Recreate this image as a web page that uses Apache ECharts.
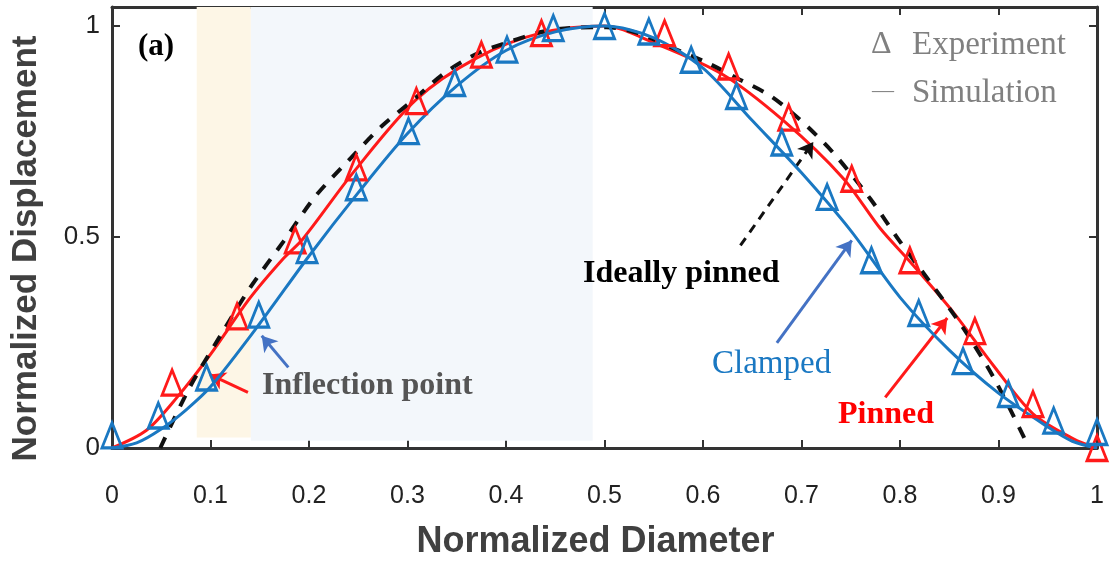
<!DOCTYPE html>
<html>
<head>
    <meta charset="utf-8">
    <title>Normalized displacement profile</title>
    <script src="https://cdn.jsdelivr.net/npm/echarts@6/dist/echarts.min.js"></script>
</head>
<style>
    body { margin: 0; background: #fff; }
    #main { width: 1115px; height: 565px; }
</style>
<body>
<div id="main"></div>
<script type="text/javascript">
    // [normalized diameter, normalized displacement]
    var pinnedSim = [[0,0],[0.035,0.042],[0.066,0.12],[0.1,0.222],[0.14,0.355],[0.174,0.449],[0.194,0.496],
        [0.245,0.653],[0.309,0.826],[0.37,0.924],[0.435,0.983],[0.5,1.0],[0.55,0.96],[0.62,0.885],
        [0.682,0.775],[0.742,0.64],[0.78,0.52],[0.81,0.442],[0.854,0.322],[0.895,0.195],[0.935,0.081],
        [0.976,0.022],[1,0]];
    var clampedSim = [[0,0],[0.025,0.012],[0.05,0.045],[0.075,0.09],[0.1,0.145],[0.15,0.295],[0.2,0.455],
        [0.25,0.605],[0.3,0.745],[0.35,0.858],[0.4,0.942],[0.45,0.986],[0.5,1.0],[0.55,0.972],[0.6,0.9],
        [0.65,0.776],[0.7,0.652],[0.75,0.515],[0.8,0.357],[0.85,0.232],[0.9,0.13],[0.95,0.05],
        [0.975,0.016],[1,0]];
    var idealPinned = [[0.049,0],[0.079,0.144],[0.11,0.266],[0.14,0.379],[0.174,0.489],[0.206,0.595],
        [0.24,0.681],[0.274,0.763],[0.306,0.825],[0.338,0.889],[0.372,0.936],[0.404,0.963],[0.438,0.987],
        [0.47,0.996],[0.502,0.997],[0.534,0.983],[0.566,0.951],[0.605,0.912],[0.634,0.877],[0.668,0.835],
        [0.698,0.779],[0.732,0.7],[0.77,0.59],[0.8,0.489],[0.83,0.395],[0.864,0.285],[0.895,0.167],
        [0.927,0.02],[0.93,0]];
    var pinnedExp = [[0.061,0.155],[0.127,0.312],[0.186,0.492],[0.248,0.665],[0.309,0.822],[0.375,0.932],
        [0.436,0.983],[0.561,0.983],[0.626,0.904],[0.687,0.783],[0.751,0.638],[0.81,0.445],[0.876,0.277],
        [0.935,0.104],[1.0,0.0]];
    var clampedExp = [[0,0.03],[0.047,0.077],[0.096,0.167],[0.149,0.316],[0.198,0.469],[0.248,0.618],
        [0.301,0.751],[0.348,0.865],[0.401,0.944],[0.448,0.995],[0.5,1.0],[0.545,0.987],[0.588,0.92],
        [0.634,0.834],[0.68,0.724],[0.726,0.595],[0.771,0.445],[0.819,0.32],[0.864,0.206],[0.91,0.128],
        [0.956,0.065],[1.0,0.038]];
    // shaded bands (x ranges)
    var yellowBand = [0.086, 0.141];
    var blueBand = [0.141, 0.488];
    // arrow annotations [tail, tip] in data coords
    var arrowInflRed = [[0.138,0.132],[0.0995,0.174]];
    var arrowInflBlue = [[0.179,0.191],[0.152,0.266]];
    var arrowIdeal = [[0.638,0.48],[0.712,0.725]];
    var arrowClamped = [[0.675,0.249],[0.751,0.492]];
    var arrowPinned = [[0.785,0.12],[0.848,0.308]];

    var RED = '#ff1a1a';
    var BLUE = '#1a78c2';
    var ARROWBLUE = '#4472c4';
    var AXIS = '#333';
    var sans = '"Liberation Sans", Arial, sans-serif';
    var serif = '"Liberation Serif", "Times New Roman", serif';

    function arrow(pts, color, type) {
        return [
            {coord: pts[0], lineStyle: {color: color, width: 3, type: type || 'solid'}},
            {coord: pts[1]}
        ];
    }

    var myChart = echarts.init(document.getElementById('main'));

    var axisCommon = {
        type: 'value',
        axisLine: {onZero: false, lineStyle: {color: AXIS, width: 3}},
        axisTick: {inside: true, length: 8, lineStyle: {color: AXIS, width: 2}},
        splitLine: {show: false}
    };

    var option = {
        animation: false,
        grid: {left: 112, right: 18, top: 7, bottom: 114},
        xAxis: [
            Object.assign({}, axisCommon, {
                min: 0, max: 1, interval: 0.1, position: 'bottom',
                axisLabel: {margin: 36, fontSize: 25, color: '#222', fontFamily: sans},
                name: 'Normalized Diameter', nameLocation: 'middle', nameGap: 76,
                nameTextStyle: {fontSize: 36, fontWeight: 'bold', color: '#404040', fontFamily: sans, padding: [0, 18, 0, 0]}
            }),
            Object.assign({}, axisCommon, {
                min: 0, max: 1, interval: 0.1, position: 'top',
                axisLabel: {show: false}
            })
        ],
        yAxis: [
            Object.assign({}, axisCommon, {
                min: 0, max: 1.045, interval: 0.5, position: 'left',
                axisLabel: {margin: 12, fontSize: 26, color: '#222', fontFamily: sans, showMaxLabel: false},
                name: 'Normalized Displacement', nameLocation: 'middle', nameGap: 68,
                nameTextStyle: {fontSize: 35, fontWeight: 'bold', color: '#404040', fontFamily: sans, padding: [0, 42, 0, 0]}
            }),
            Object.assign({}, axisCommon, {
                min: 0, max: 1.045, interval: 0.5, position: 'right',
                axisLabel: {show: false}
            })
        ],
        series: [
            {
                name: 'Bands', type: 'line', data: [], z: 0, silent: true,
                markArea: {
                    silent: true,
                    data: [
                        [{xAxis: yellowBand[0], yAxis: 0.025, itemStyle: {color: '#fdf6e6'}}, {xAxis: yellowBand[1], yAxis: 1.045}],
                        [{xAxis: blueBand[0], yAxis: 0.017, itemStyle: {color: '#f3f7fb'}}, {xAxis: blueBand[1], yAxis: 1.045}]
                    ]
                }
            },
            {
                name: 'Pinned', type: 'line', data: pinnedSim, smooth: 0.3, showSymbol: false, z: 3,
                lineStyle: {color: RED, width: 3}
            },
            {
                name: 'Ideally pinned', type: 'line', data: idealPinned, smooth: 0.3, showSymbol: false, z: 4,
                lineStyle: {color: '#111', width: 4, type: [12, 11]}
            },
            {
                name: 'Clamped', type: 'line', data: clampedSim, smooth: 0.3, showSymbol: false, z: 5,
                lineStyle: {color: BLUE, width: 3}
            },
            {
                name: 'Pinned exp', type: 'scatter', data: pinnedExp, z: 6,
                symbol: 'triangle', symbolSize: [20, 25],
                itemStyle: {color: 'rgba(0,0,0,0)', borderColor: RED, borderWidth: 3, opacity: 1}
            },
            {
                name: 'Clamped exp', type: 'scatter', data: clampedExp, z: 7,
                symbol: 'triangle', symbolSize: [20, 25],
                itemStyle: {color: 'rgba(0,0,0,0)', borderColor: BLUE, borderWidth: 3, opacity: 1}
            },
            {
                name: 'Arrows', type: 'line', data: [], z: 8, silent: true,
                markLine: {
                    silent: true, animation: false,
                    symbol: ['none', 'arrow'], symbolSize: [14, 15],
                    label: {show: false},
                    emphasis: {disabled: true},
                    data: [
                        arrow(arrowInflRed, RED),
                        arrow(arrowInflBlue, ARROWBLUE),
                        arrow(arrowIdeal, '#111', [9, 7]),
                        arrow(arrowClamped, ARROWBLUE),
                        arrow(arrowPinned, RED)
                    ]
                }
            }
        ],
        graphic: [
            {type: 'text', z: 100, left: 138, top: 31, style: {text: '(a)', font: 'bold 31px ' + serif, fill: '#000'}},
            {type: 'text', z: 100, left: 871, top: 29, style: {text: '\u0394', font: '32px ' + serif, fill: '#808080'}},
            {type: 'text', z: 100, left: 912, top: 29, style: {text: 'Experiment', font: '33px ' + serif, fill: '#808080'}},
            {type: 'text', z: 100, left: 872, top: 80, style: {text: '\u2014', font: '22px ' + serif, fill: '#808080'}},
            {type: 'text', z: 100, left: 912, top: 77, style: {text: 'Simulation', font: '33px ' + serif, fill: '#808080'}},
            {type: 'text', z: 100, left: 262, top: 370, style: {text: 'Inflection point', font: 'bold 32px ' + serif, fill: '#555'}},
            {type: 'text', z: 100, left: 583, top: 258, style: {text: 'Ideally pinned', font: 'bold 32px ' + serif, fill: '#000'}},
            {type: 'text', z: 100, left: 712, top: 348, style: {text: 'Clamped', font: '33px ' + serif, fill: BLUE}},
            {type: 'text', z: 100, left: 838, top: 399, style: {text: 'Pinned', font: 'bold 32px ' + serif, fill: '#ff0000'}}
        ]
    };

    myChart.setOption(option);
</script>
</body>
</html>
